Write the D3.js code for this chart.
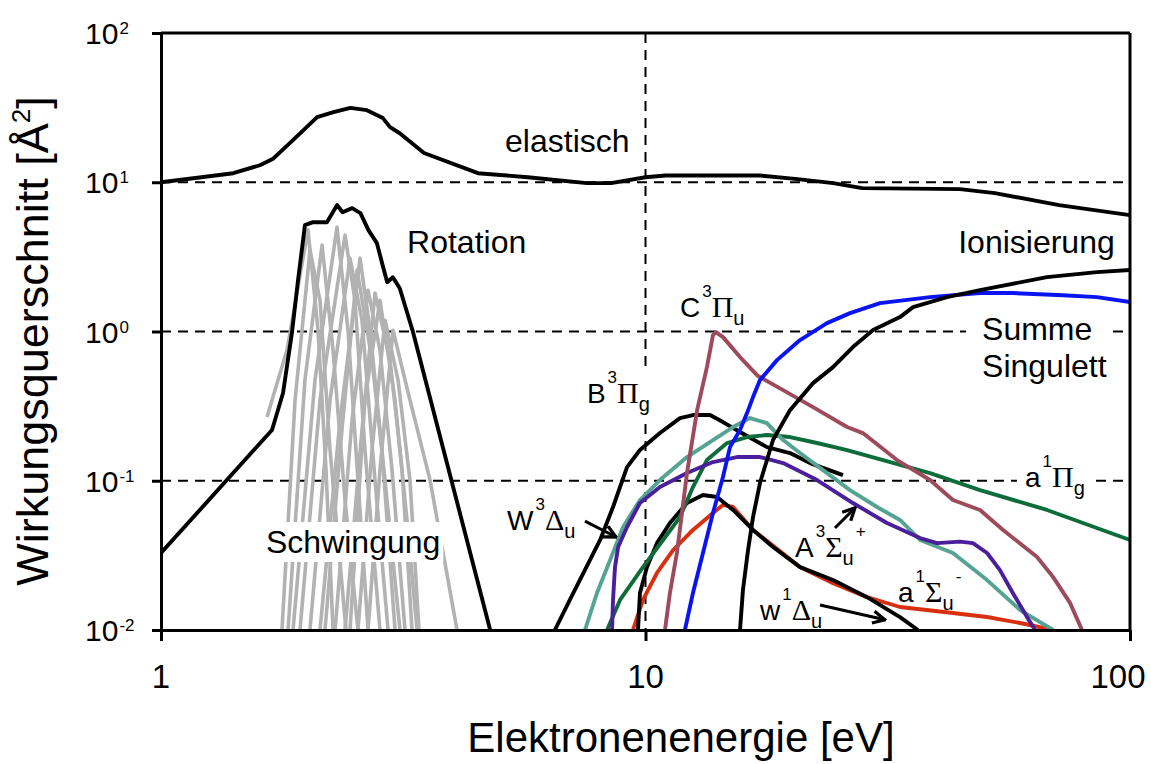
<!DOCTYPE html>
<html>
<head>
<meta charset="utf-8">
<script src="https://cdn.jsdelivr.net/npm/d3@7"></script>
<style>
  body { margin: 0; background: #fff; }
  text { font-family: "Liberation Sans", Arial, sans-serif; fill: #000; }
</style>
</head>
<body>
<svg id="chart" width="1151" height="764"></svg>
<script>
// ---- axis ticks ----
const xTicks = [1, 10, 100];
const yTicks = [0.01, 0.1, 1, 10, 100];
const yTickExponents = ["-2", "-1", "0", "1", "2"];
const xGrid = [10];
const yGrid = [0.1, 1, 10];

// ---- cross sections [energy eV, sigma Å²] ----
const elastisch = [[1,10],[1.41,11.5],[1.60,13.0],[1.70,14.3],[1.87,19.1],[2.10,27.3],[2.27,29.5],[2.46,31.5],[2.66,30.4],[2.87,26.9],[2.97,23.4],[3.11,21.3],[3.49,15.7],[4.51,11.5],[5.72,10.8],[7.57,9.86],[8.49,9.86],[10.0,10.8],[11.0,11.1],[17.2,11.1],[20.6,10.5],[24.4,9.86],[28.0,9.13],[44.6,8.99],[52.6,8.45],[71.4,7.03],[100,6.02]];

const rotation = [[1,0.0328],[1.695,0.219],[1.786,0.387],[1.864,0.99],[1.918,2.21],[1.982,5.16],[2.06,5.40],[2.20,5.40],[2.31,7.03],[2.37,6.30],[2.48,6.71],[2.58,6.21],[2.68,4.78],[2.79,3.91],[2.86,2.87],[2.93,2.14],[3.01,2.31],[3.11,1.95],[3.31,1.0],[4.78,0.01]];

// vibrational levels
const schwingung1 = [[1.655,0.267],[1.82,0.751],[2.011,4.8],[2.109,1.022],[2.191,0.118],[2.265,0.01]];
const schwingung2 = [[1.777,0.01],[1.891,0.347],[2.03,3.51],[2.129,1.62],[2.233,0.161],[2.409,0.01]];
const schwingung3 = [[1.829,0.01],[1.982,0.473],[2.15,3.79],[2.265,0.751],[2.398,0.0743],[2.55,0.01]];
const schwingung4 = [[1.873,0.01],[2.079,0.473],[2.308,5.0],[2.432,1.02],[2.55,0.101],[2.675,0.01]];
const schwingung5 = [[2.03,0.01],[2.233,0.347],[2.455,3.10],[2.599,1.19],[2.765,0.101],[2.942,0.01]];
const schwingung6 = [[2.129,0.01],[2.342,0.255],[2.575,3.10],[2.701,1.02],[2.858,0.161],[3.041,0.01]];
const schwingung7 = [[2.287,0.01],[2.479,0.255],[2.675,1.89],[2.831,0.751],[2.998,0.118],[3.189,0.01]];
const schwingung8 = [[2.398,0.01],[2.599,0.219],[2.765,1.81],[2.97,0.643],[3.144,0.118],[3.297,0.01]];
const schwingung9 = [[2.55,0.01],[2.726,0.161],[2.9,1.19],[3.085,0.473],[3.265,0.101],[3.408,0.01]];
const schwingung10 = [[2.675,0.01],[2.831,0.118],[3.012,1.02],[3.265,0.347],[3.592,0.101],[4.083,0.01]];
const schwingung11 = [[1.936,0.01],[2.129,0.347],[2.398,4.42],[2.514,1.62],[2.636,0.161],[2.831,0.01]];
const schwingung12 = [[2.18,0.01],[2.363,0.219],[2.54,2.58],[2.726,0.643],[2.9,0.101],[3.113,0.01]];
const schwingung13 = [[2.455,0.01],[2.636,0.347],[2.831,1.62],[3.041,0.347],[3.219,0.0546],[3.376,0.01]];

const B3Pg = [[6.5,0.01],[6.98,0.0159],[8.06,0.0401],[8.57,0.0667],[9.16,0.1235],[9.74,0.1606],[10.71,0.2087],[11.78,0.263],[12.53,0.2755],[13.59,0.2755],[14.45,0.2473],[15.67,0.212],[17.81,0.168],[19.87,0.1533],[21.85,0.1314],[25.56,0.1092]];

const W3Du = [[8.53,0.01],[8.57,0.0159],[8.65,0.0264],[8.78,0.036],[9.16,0.049],[9.74,0.0709],[10.71,0.0907],[12.18,0.1126],[13.78,0.1334],[15.45,0.1441],[17.23,0.1441],[19.23,0.1314],[22.6,0.1011],[26.8,0.0709],[31.5,0.0521],[36.87,0.0413],[39.97,0.0382],[44.58,0.0391],[47.4,0.0382],[50.7,0.0328],[53.9,0.0252],[57.3,0.0177],[61.3,0.0122],[63.7,0.01]];

const A3Su = [[7.5,0.01],[7.94,0.0177],[8.45,0.0294],[8.99,0.049],[9.74,0.0743],[10.71,0.1011],[12.18,0.1441],[13.78,0.1874],[15.16,0.229],[16.43,0.263],[17.81,0.2435],[19.23,0.1874],[20.84,0.1533],[23.25,0.1179],[26.43,0.0866],[30.05,0.0667],[33.52,0.0546],[36.87,0.0401],[43.1,0.0328],[50.7,0.0216],[59.3,0.0136],[69.4,0.01]];

const a1Pg = [[8.33,0.01],[8.86,0.0159],[9.88,0.0264],[10.87,0.0401],[11.78,0.0571],[12.53,0.0907],[13.39,0.1376],[14.73,0.179],[16.2,0.1962],[17.81,0.2024],[19.87,0.1962],[22.6,0.179],[26.06,0.1606],[30.92,0.1376],[38.66,0.1126],[49.03,0.0866],[67.4,0.0637],[100,0.0401]];

const C3Pu = [[10.97,0.01],[11.23,0.0177],[11.61,0.0328],[12.18,0.1126],[12.78,0.297],[13.39,0.577],[13.78,0.946],[13.98,0.991],[14.45,0.917],[15.67,0.674],[17.07,0.503],[19.23,0.405],[22.17,0.3115],[26.06,0.229],[28.1,0.2087],[33.04,0.1376],[38.66,0.1011],[43.1,0.0743],[49.03,0.0637],[54.7,0.0468],[64.3,0.0308],[69.4,0.0226],[75.2,0.0152],[79.6,0.01]];

const summeSingulett = [[12.06,0.01],[12.53,0.0177],[13.14,0.0328],[13.78,0.0608],[14.45,0.1059],[14.94,0.168],[15.67,0.2186],[16.2,0.284],[16.67,0.3636],[17.23,0.473],[18.68,0.643],[20.84,0.876],[23.69,1.138],[26.43,1.328],[30.48,1.55],[38.66,1.70],[49.03,1.81],[57.3,1.81],[72.7,1.75],[85.5,1.70],[100,1.574]];

const ionisierung = [[15.67,0.01],[15.89,0.0185],[16.28,0.0343],[16.67,0.0571],[17.23,0.0965],[18.33,0.1874],[19.87,0.297],[22.17,0.451],[24.38,0.577],[26.8,0.786],[29.49,1.022],[33.52,1.249],[35.66,1.457],[41.9,1.70],[49.03,1.894],[67.4,2.314],[85.5,2.50],[100,2.58]];

const w1Du = [[9.65,0.01],[9.74,0.0177],[10.07,0.0264],[10.56,0.0382],[11.23,0.0521],[12.18,0.0709],[13.14,0.0802],[14.05,0.0778],[15.16,0.0637],[16.67,0.0468],[18.33,0.036],[20.84,0.0264],[24.38,0.0216],[28.66,0.0166],[33.52,0.0122],[36.5,0.01]];

const a1Su = [[9.42,0.01],[9.88,0.0159],[10.56,0.0241],[11.40,0.0343],[12.53,0.0468],[13.78,0.0608],[14.45,0.0689],[15.16,0.0667],[16.67,0.0468],[20.84,0.0264],[24.38,0.0206],[28.66,0.0166],[33.52,0.01426],[43.1,0.01299],[50.7,0.01222],[59.3,0.01114],[69.4,0.01]];

const vibrationSeries = [schwingung1, schwingung2, schwingung3, schwingung11, schwingung4,
  schwingung12, schwingung5, schwingung6, schwingung7, schwingung13, schwingung8,
  schwingung9, schwingung10];

// drawing order and colours
const series = [
  { data: elastisch, color: "#000000" },
  { data: rotation, color: "#000000" },
  { data: B3Pg, color: "#000000" },
  { data: a1Su, color: "#D8300E" },
  { data: w1Du, color: "#000000" },
  { data: a1Pg, color: "#0E6B3A" },
  { data: A3Su, color: "#55A392" },
  { data: W3Du, color: "#4A1F9C" },
  { data: C3Pu, color: "#9C4A5C" },
  { data: summeSingulett, color: "#0A14F2" },
  { data: ionisierung, color: "#000000" }
];

// ---- layout ----
const svg = d3.select("#chart");
const x = d3.scaleLog().domain([1, 100]).range([161, 1130]);
const y = d3.scaleLog().domain([0.01, 100]).range([630, 33]);
const line = d3.line().x(d => x(d[0])).y(d => y(d[1]));

const defs = svg.append("defs");
defs.append("clipPath").attr("id", "plotClip")
  .append("rect").attr("x", x(1)).attr("y", y(100))
  .attr("width", x(100) - x(1)).attr("height", y(0.01) - y(100));
defs.append("marker").attr("id", "arrowHead")
  .attr("viewBox", "0 0 10 10").attr("refX", 9).attr("refY", 5)
  .attr("markerWidth", 15).attr("markerHeight", 15)
  .attr("markerUnits", "userSpaceOnUse").attr("orient", "auto")
  .append("path").attr("d", "M1,1 L9,5 L1,9")
  .attr("fill", "none").attr("stroke", "#000").attr("stroke-width", 2.2)
  .attr("stroke-linejoin", "miter");

const gGrid = svg.append("g");
const gGray = svg.append("g").attr("clip-path", "url(#plotClip)");
const gBoxes = svg.append("g");
const gCurves = svg.append("g").attr("clip-path", "url(#plotClip)");
const gAxes = svg.append("g");
const gText = svg.append("g");

// dashed grid
gGrid.selectAll("line.h").data(yGrid).join("line")
  .attr("x1", x(1)).attr("x2", x(100))
  .attr("y1", d => y(d)).attr("y2", d => y(d))
  .attr("stroke", "#000").attr("stroke-width", 2).attr("stroke-dasharray", "10,7");
gGrid.selectAll("line.v").data(xGrid).join("line")
  .attr("x1", d => x(d)).attr("x2", d => x(d))
  .attr("y1", y(100)).attr("y2", y(0.01))
  .attr("stroke", "#000").attr("stroke-width", 2).attr("stroke-dasharray", "10,7");

// vibrational curves
gGray.selectAll("path").data(vibrationSeries).join("path")
  .attr("d", line).attr("fill", "none")
  .attr("stroke", "#B2B2B2").attr("stroke-width", 3.6)
  .attr("stroke-linejoin", "round");

// main curves
gCurves.selectAll("path").data(series).join("path")
  .attr("d", d => line(d.data)).attr("fill", "none")
  .attr("stroke", d => d.color).attr("stroke-width", 3.9)
  .attr("stroke-linejoin", "round").attr("stroke-linecap", "butt");

// axes
const yAxis = d3.axisLeft(y).tickValues(yTicks).tickSize(9).tickSizeOuter(0).tickFormat("");
const xAxis = d3.axisBottom(x).tickValues(xTicks).tickSize(11).tickSizeOuter(0).tickFormat("");
const gy = gAxes.append("g").attr("transform", `translate(${x(1)},0)`).call(yAxis);
const gx = gAxes.append("g").attr("transform", `translate(0,${y(0.01)})`).call(xAxis);
[gy, gx].forEach(g => {
  g.select(".domain").attr("stroke", "#000").attr("stroke-width", 3);
  g.selectAll(".tick line").attr("stroke", "#000").attr("stroke-width", 3);
});
// frame top and right
gAxes.append("line").attr("x1", x(1)).attr("x2", x(100)).attr("y1", y(100)).attr("y2", y(100))
  .attr("stroke", "#000").attr("stroke-width", 3);
gAxes.append("line").attr("x1", x(100)).attr("x2", x(100)).attr("y1", y(100)).attr("y2", y(0.01))
  .attr("stroke", "#000").attr("stroke-width", 3);

// y tick labels 10^n
yTicks.forEach((v, i) => {
  const t = gText.append("text").attr("x", 85).attr("y", y(v) + 11)
    .attr("text-anchor", "start").attr("font-size", 30);
  t.append("tspan").text("10");
  t.append("tspan").attr("font-size", 17).attr("dy", -10).attr("dx", 1).text(yTickExponents[i]);
});
// x tick labels
gText.selectAll("text.xt").data(xTicks).join("text")
  .attr("x", d => d === 100 ? x(d) - 12 : x(d)).attr("y", 688)
  .attr("text-anchor", "middle").attr("font-size", 33)
  .text(d => d);

// axis titles
gText.append("text").attr("x", 681).attr("y", 752).attr("text-anchor", "middle")
  .attr("font-size", 42).text("Elektronenenergie [eV]");
const yt = gText.append("text").attr("transform", "translate(48,341) rotate(-90)")
  .attr("text-anchor", "middle").attr("font-size", 45);
yt.append("tspan").text("Wirkungsquerschnitt [Å");
yt.append("tspan").attr("font-size", 26).attr("dy", -18).text("2");
yt.append("tspan").attr("dy", 18).text("]");

// ---- labels ----
const SERIF = '"Liberation Serif", "Times New Roman", serif';
const wordLabels = [
  { text: "elastisch", e: 5.13, s: 15.9 },
  { text: "Rotation", e: 3.22, s: 3.35 },
  { text: "Schwingung", e: 1.647, s: 0.0328, box: true },
  { text: "Ionisierung", e: 44.2, s: 3.35 },
  { text: "Summe", e: 49.5, s: 0.876, box: true },
  { text: "Singulett", e: 49.5, s: 0.495 }
];
const stateLabels = [
  { parts: [["C"], ["3", "sup"], ["Π", "gr"], ["u", "sub"]], e: 11.78, s: 1.249 },
  { parts: [["B"], ["3", "sup"], ["Π", "gr"], ["g", "sub"]], e: 7.57, s: 0.331, box: true },
  { parts: [["W"], ["3", "sup"], ["Δ", "gr"], ["u", "sub"]], e: 5.18, s: 0.0467 },
  { parts: [["A"], ["3", "sup"], ["Σ", "gr"], ["u", "sub"], ["+", "sup"]], e: 20.35, s: 0.0308 },
  { parts: [["w"], ["1", "sup"], ["Δ", "gr"], ["u", "sub"]], e: 17.23, s: 0.0117 },
  { parts: [["a"], ["1", "sup"], ["Σ", "gr"], ["u", "sub"], ["-", "sup"]], e: 33.2, s: 0.0154 },
  { parts: [["a"], ["1", "sup"], ["Π", "gr"], ["g", "sub"]], e: 60.7, s: 0.0907, box: true }
];
const arrows = [
  { from: [7.50, 0.0537], to: [8.69, 0.042] },
  { from: [24.6, 0.0482], to: [27.06, 0.0657] },
  { from: [22.92, 0.0147], to: [31.2, 0.0117] }
];

function addBox(node, padX, padY) {
  const b = node.getBBox();
  gBoxes.append("rect").attr("x", b.x - padX).attr("y", b.y - padY)
    .attr("width", b.width + 2 * padX).attr("height", b.height + 2 * padY)
    .attr("fill", "#fff");
}

wordLabels.forEach(l => {
  const t = gText.append("text").attr("x", x(l.e)).attr("y", y(l.s))
    .attr("font-size", 32).text(l.text);
  if (l.box) addBox(t.node(), l.text === "Summe" ? 16 : 3, 2);
});

stateLabels.forEach(l => {
  const base = y(l.s);
  const t = gText.append("text").attr("x", x(l.e)).attr("y", base).attr("font-size", 28);
  l.parts.forEach(([str, kind]) => {
    const ts = t.append("tspan").text(str);
    if (kind === "sup") ts.attr("font-size", 17).attr("y", base - 20).attr("dx", 2);
    else if (kind === "sub") ts.attr("font-size", 20).attr("y", base + 8);
    else ts.attr("y", base);
    if (kind === "gr") ts.attr("font-family", SERIF).attr("font-size", 30);
  });
  if (l.box) addBox(t.node(), 8, 2);
});

gText.selectAll("line.arrow").data(arrows).join("line")
  .attr("x1", d => x(d.from[0])).attr("y1", d => y(d.from[1]))
  .attr("x2", d => x(d.to[0])).attr("y2", d => y(d.to[1]))
  .attr("stroke", "#000").attr("stroke-width", 3)
  .attr("marker-end", "url(#arrowHead)");
</script>
</body>
</html>
